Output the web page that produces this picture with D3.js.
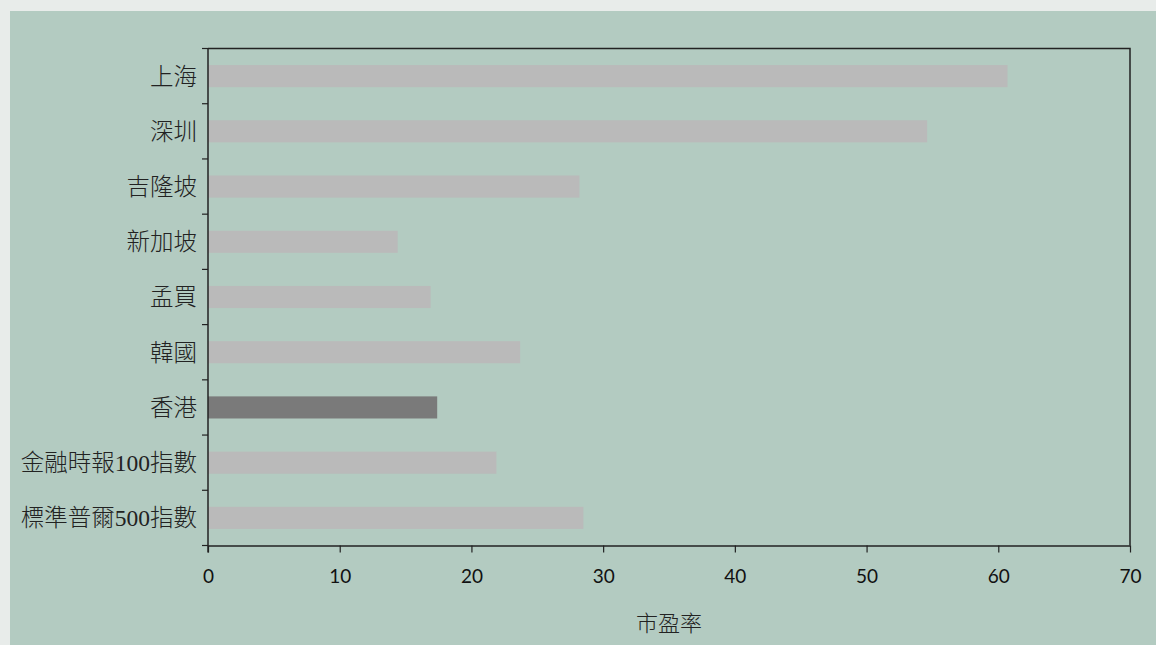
<!DOCTYPE html>
<html>
<head>
<meta charset="utf-8">
<script src="https://cdn.jsdelivr.net/npm/d3@7"></script>
<style>
  body { margin: 0; background: #e8ecea; }
</style>
</head>
<body>
<div id="chart"></div>
<script>
const WIDTH = 1156;
const HEIGHT = 645;

const markets = ["上海", "深圳", "吉隆坡", "新加坡", "孟買", "韓國", "香港", "金融時報100指數", "標準普爾500指數"];
const peRatios = [60.7, 54.6, 28.2, 14.4, 16.9, 23.7, 17.4, 21.9, 28.5];
const xTicks = [0, 10, 20, 30, 40, 50, 60, 70];
const highlight = "香港";

const margin = { top: 48.5, right: 26, bottom: 99.5, left: 208 };

const svg = d3.select("#chart").append("svg")
  .attr("width", WIDTH)
  .attr("height", HEIGHT);

// outer frame + green panel
svg.append("rect").attr("width", WIDTH).attr("height", HEIGHT).attr("fill", "#e8ecea");
svg.append("rect").attr("x", 10).attr("y", 11).attr("width", WIDTH - 10).attr("height", HEIGHT - 11).attr("fill", "#b3cbc1");

const x = d3.scaleLinear()
  .domain([0, 70])
  .range([margin.left, WIDTH - margin.right]);

const y = d3.scaleBand()
  .domain(markets)
  .range([margin.top, HEIGHT - margin.bottom])
  .paddingInner(0.6)
  .paddingOuter(0.3);

// plot box (top + right)
svg.append("path")
  .attr("d", `M${x(0)},${margin.top}H${x(70)}V${HEIGHT - margin.bottom}`)
  .attr("fill", "none")
  .attr("stroke", "#222")
  .attr("stroke-width", 1.5);

svg.append("g")
  .selectAll("rect")
  .data(markets)
  .join("rect")
  .attr("x", x(0))
  .attr("y", d => y(d))
  .attr("width", (d, i) => x(peRatios[i]) - x(0))
  .attr("height", y.bandwidth())
  .attr("fill", d => d === highlight ? "#7a7a7a" : "#bababa");

// x axis
const xAxis = svg.append("g")
  .attr("transform", `translate(0,${HEIGHT - margin.bottom})`)
  .call(d3.axisBottom(x).tickValues(xTicks).tickSize(7).tickSizeOuter(0));
xAxis.select(".domain").attr("stroke", "#222").attr("stroke-width", 1.5);
xAxis.selectAll(".tick line").attr("stroke", "#222").attr("stroke-width", 1.2);
xAxis.selectAll(".tick text")
  .attr("y", 37)
  .attr("dy", null)
  .attr("fill", "#111")
  .style("font-family", "Lato, 'Open Sans', sans-serif")
  .style("font-size", "19px");

// y axis: ticks at band boundaries
const bounds = d3.range(markets.length + 1).map(i => margin.top + i * (HEIGHT - margin.top - margin.bottom) / markets.length);
const yAxis = svg.append("g");
yAxis.append("line")
  .attr("x1", x(0)).attr("x2", x(0))
  .attr("y1", margin.top).attr("y2", HEIGHT - margin.bottom + 7)
  .attr("stroke", "#222").attr("stroke-width", 1.5);
yAxis.selectAll("line.tk")
  .data(bounds)
  .join("line")
  .attr("class", "tk")
  .attr("x1", x(0) - 6).attr("x2", x(0))
  .attr("y1", d => d).attr("y2", d => d)
  .attr("stroke", "#222").attr("stroke-width", 1.2);
yAxis.selectAll("text")
  .data(markets)
  .join("text")
  .attr("x", x(0) - 11)
  .attr("y", d => y(d) + y.bandwidth() / 2)
  .attr("dy", "0.36em")
  .attr("text-anchor", "end")
  .attr("fill", "#222")
  .style("font-family", "'Liberation Serif', 'Noto Sans CJK TC', serif")
  .style("font-size", "23.5px")
  .style("font-weight", 300)
  .text(d => d);

// x title
svg.append("text")
  .attr("x", (x(0) + x(70)) / 2)
  .attr("y", 631)
  .attr("text-anchor", "middle")
  .attr("fill", "#222")
  .style("font-family", "'Liberation Serif', 'Noto Sans CJK TC', serif")
  .style("font-size", "22px")
  .style("font-weight", 300)
  .text("市盈率");
</script>
</body>
</html>
